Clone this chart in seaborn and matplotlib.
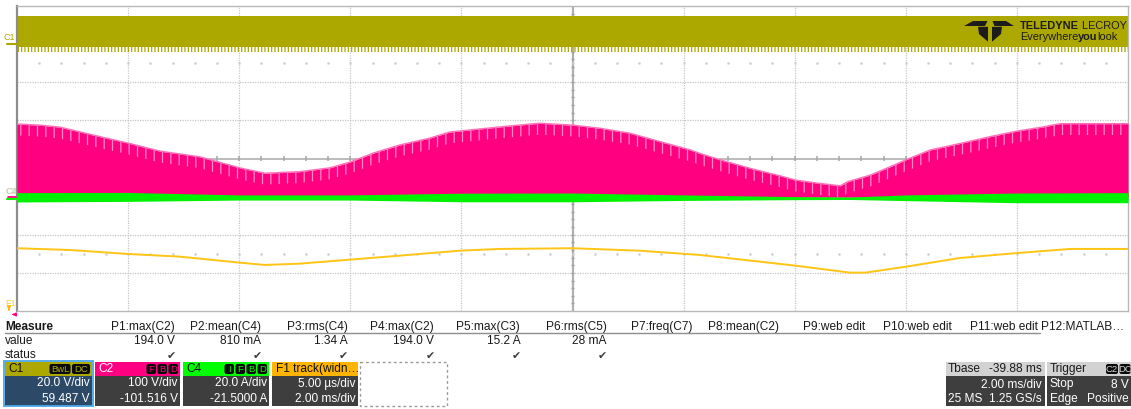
import numpy as np
import pandas as pd
import matplotlib
matplotlib.use("Agg")
import matplotlib.pyplot as plt
from matplotlib.patches import Rectangle, FancyBboxPatch, Polygon
import seaborn as sns

# ---------------- acquisition setup ----------------
TIME_DIV_MS = 2.0                       # 2.00 ms/div, 10 divisions
C1_SCALE, C1_OFFSET = 20.0, 59.487      # V/div, V
C2_SCALE, C2_OFFSET = 100.0, -101.516   # V/div, V
C4_SCALE, C4_OFFSET = 20.0, -21.5       # A/div, A
F1_SCALE, F1_OFFSET = 5.0, -22.5        # us/div, us

# ---------------- waveform data ----------------
# C1 gate drive: switching band (V)
c1_high_v = 15.3
c1_low_v = -0.8
c1_ring_v = -3.7

# C2 switch-node voltage: per-cycle peak envelope (V)
c2_time_ms = [0.00, 0.41, 0.77, 1.49, 2.00, 2.57, 3.29, 4.01, 4.46, 5.09,
              5.63, 5.99, 6.44, 6.89, 7.43, 7.79, 8.33, 8.87, 9.41, 10.01,
              10.49, 11.03, 11.57, 12.12, 12.29, 12.66, 13.19, 13.74, 14.01, 14.46,
              14.82, 14.96, 15.36, 15.72, 16.00, 16.44, 16.98, 17.52, 18.02, 18.42,
              18.78, 20.00]
c2_peak_v = [192, 189, 184, 159, 142, 121, 106, 77, 63, 67,
             77, 92, 117, 137, 155, 171, 179, 187, 194.0, 189,
             181, 168, 146, 124, 115, 98, 76, 56, 45, 36,
             30, 41, 58, 80, 98, 124, 141, 159, 174, 183,
             193, 193]
c2_floor_v = 0.0

# C4 current: ripple band (A)
c4_time_ms = [0, 2, 4, 6, 8, 10, 12, 14, 15, 16, 18, 20]
c4_high_a = [3.6, 3.7, 2.4, 2.4, 3.3, 3.4, 2.4, 1.5, 1.3, 2.4, 3.4, 3.6]
c4_low_a = [-1.3, -1.0, -0.3, -0.3, -1.2, -1.2, -0.5, -0.1, 0.0, -0.6, -1.7, -1.7]

# F1 tracked pulse width (us)
f1_time_ms = [0.00, 0.95, 2.00, 2.93, 4.01, 4.46, 5.09, 6.89, 7.97, 8.69,
              10.01, 11.21, 12.29, 14.01, 14.996, 15.27, 16.00, 16.98, 18.02, 18.96, 20.00]
f1_width_us = [10.73, 10.50, 9.98, 9.63, 8.84, 8.54, 8.71, 9.76, 10.41, 10.64,
               10.73, 10.41, 9.85, 8.45, 7.53, 7.53, 8.31, 9.46, 10.11, 10.64, 10.64]

# ---------------- measurement table ----------------
meas_names = ["P1:max(C2)", "P2:mean(C4)", "P3:rms(C4)", "P4:max(C2)", "P5:max(C3)",
              "P6:rms(C5)", "P7:freq(C7)", "P8:mean(C2)", "P9:web edit",
              "P10:web edit", "P11:web edit", "P12:MATLAB\u2026"]
c2_max_text = f"{max(c2_peak_v):.1f} V"
meas_values = [c2_max_text, "810 mA", "1.34 A", c2_max_text, "15.2 A", "28 mA",
               "", "", "", "", "", ""]
meas_ok = [True, True, True, True, True, True, False, False, False, False, False, False]

# ---------------- channel descriptors ----------------
desc_names = ["C1", "C2", "C4", "F1 track(widn\u2026"]
desc_colors = ["#ADA800", "#FF0080", "#00FF00", "#FFB400"]
desc_name_colors = ["#111111", "#FFFFFF", "#111111", "#111111"]
desc_badges = [["BwL", "DC"], ["F", "B", "D"], ["I", "F", "B", "D"], []]
desc_line1 = ["20.0 V/div", "100 V/div", "20.0 A/div", "5.00 \u00b5s/div"]
desc_line2 = ["59.487 V", "-101.516 V", "-21.5000 A", "2.00 ms/div"]

timebase = ["Tbase", "-39.88 ms", "2.00 ms/div", "25 MS", "1.25 GS/s"]
trigger = ["Trigger", "C2", "DC", "Stop", "8 V", "Edge", "Positive"]

# ---------------- style ----------------
sns.set_theme(style="white")
plt.rcParams["font.family"] = ["Liberation Sans", "DejaVu Sans"]
plt.rcParams["hatch.linewidth"] = 0.9

C1_COLOR, C2_COLOR, C4_COLOR, F1_COLOR = "#ADA800", "#FF0080", "#00F200", "#FFC414"
BODY = "#3E3E3E"
FS = 8.6

W, H = 1131, 409
fig = plt.figure(figsize=(W / 100, H / 100), dpi=100, facecolor="white")


def to_div(v, scale, offset):
    return (np.asarray(v, dtype=float) + offset) / scale


# ---------------- scope grid ----------------
X0, X1, Y0, Y1 = 17, 1128, 6, 311
ax = fig.add_axes([X0 / W, 1 - Y1 / H, (X1 - X0) / W, (Y1 - Y0) / H])
ax.set_xlim(0, 10 * TIME_DIV_MS)
ax.set_ylim(-4, 4)
ax.set_xticks([])
ax.set_yticks([])
ax.set_facecolor("white")
for s in ax.spines.values():
    s.set_color("#B8B8B8")
    s.set_linewidth(1.0)
ax.spines["left"].set_color("#8C8C8C")
ax.spines["left"].set_linewidth(1.6)

grid_kw = dict(color="#C6C6C6", lw=0.9, ls=(0, (1, 1)), zorder=0)
for i in range(1, 10):
    if i != 5:
        ax.axvline(i * TIME_DIV_MS, **grid_kw)
for j in range(-3, 4):
    if j != 0:
        ax.axhline(j, **grid_kw)
ax.axhline(0, color="#B0B0B0", lw=1.2, zorder=0.5)
ax.axvline(5 * TIME_DIV_MS, color="#B0B0B0", lw=1.6, zorder=0.5)
minor_t = np.arange(0.4, 20, 0.4)
ax.vlines(minor_t, -0.065, 0.065, color="#A8A8A8", lw=1.1, zorder=0.5)
minor_d = np.arange(-3.8, 4, 0.2)
ax.hlines(minor_d, 10 - 0.035, 10 + 0.035, color="#A0A0A0", lw=1.0, zorder=0.5)
for lvl in (2.5, -2.5):
    ax.plot(minor_t, np.full_like(minor_t, lvl), ls="none", marker="s", ms=0.8,
            color="#CFCFCF", zorder=0.5)

# ---------------- traces ----------------
span = [0, 10 * TIME_DIV_MS]
ax.fill_between(span, to_div(c1_low_v, C1_SCALE, C1_OFFSET),
                to_div(c1_high_v, C1_SCALE, C1_OFFSET), color=C1_COLOR, lw=0, zorder=2)
ax.fill_between(span, to_div(c1_ring_v, C1_SCALE, C1_OFFSET),
                to_div(c1_low_v, C1_SCALE, C1_OFFSET), facecolor="none",
                edgecolor=C1_COLOR, hatch="|||||", lw=0, zorder=2)

c2 = pd.DataFrame({"t": c2_time_ms, "d": to_div(c2_peak_v, C2_SCALE, C2_OFFSET)})
ax.fill_between(c2["t"], to_div(c2_floor_v, C2_SCALE, C2_OFFSET), c2["d"],
                color=C2_COLOR, lw=0, zorder=3)
# lighter streaks just under the peak envelope (sample-to-sample ringing)
ax.fill_between(c2["t"], c2["d"] - 0.3, c2["d"], facecolor="none",
                edgecolor="#FF8CC6", hatch="||", lw=0, zorder=3.1)
sns.lineplot(data=c2, x="t", y="d", color="#FF6FB8", lw=1.0, ax=ax, zorder=3.2)

ax.fill_between(c4_time_ms, to_div(c4_low_a, C4_SCALE, C4_OFFSET),
                to_div(c4_high_a, C4_SCALE, C4_OFFSET), color=C4_COLOR, lw=0, zorder=4)

f1 = pd.DataFrame({"t": f1_time_ms, "d": to_div(f1_width_us, F1_SCALE, F1_OFFSET)})
sns.lineplot(data=f1, x="t", y="d", color=F1_COLOR, lw=1.4, ax=ax, zorder=5)
ax.set_xlabel("")
ax.set_ylabel("")
ax.set_xlim(0, 10 * TIME_DIV_MS)
ax.set_ylim(-4, 4)

# ---------------- overlay in pixel units ----------------
ov = fig.add_axes([0, 0, 1, 1], zorder=10)
ov.set_xlim(0, W)
ov.set_ylim(H, 0)
ov.axis("off")
renderer = fig.canvas.get_renderer()


def txt(x, y, s, ha="left", color="#1A1A1A", size=FS, **kw):
    return ov.text(x, y, s, ha=ha, va="center", color=color, fontsize=size, **kw)


def txt_run(x, y, parts, color, size):
    # consecutive text pieces of mixed weight on one baseline
    for s, wt in parts:
        t = txt(x, y, s, color=color, size=size, weight=wt)
        bb = t.get_window_extent(renderer=renderer)
        x += bb.width * W / fig.bbox.width


def rect(x0, y0, x1, y1, fc, **kw):
    ov.add_patch(Rectangle((x0, y0), x1 - x0, y1 - y0, facecolor=fc,
                           edgecolor=kw.pop("ec", "none"), **kw))


def badge(x0, x1, y0, y1, s, color):
    ov.add_patch(FancyBboxPatch((x0, y0), x1 - x0, y1 - y0,
                                boxstyle="round,pad=0,rounding_size=2",
                                facecolor="#0A0A0A", edgecolor="none"))
    ov.text((x0 + x1) / 2, (y0 + y1) / 2 + 0.3, s, ha="center", va="center",
            color=color, fontsize=6.8)


# channel markers on the left edge
txt(4, 38, "C1", color=C1_COLOR, size=6.5)
ov.plot([7, 17], [44.3, 44.3], color=C1_COLOR, lw=1.5)
txt(6, 191, "C4", color="#8CF08C", size=6.5)
txt(6, 191, "C2", color="#FF9ACB", size=6.5, alpha=0.6)
ov.plot([8, 16], [197, 197], color=C2_COLOR, lw=1.3)
ov.plot([7, 17], [199.3, 199.3], color=C4_COLOR, lw=1.5)
txt(5, 303.5, "F1", color="#FFC83C", size=6.5)
ov.annotate("", xy=(9, 313), xytext=(9, 307),
            arrowprops=dict(arrowstyle="-|>", color="#FFB400", lw=1.0,
                            mutation_scale=5))
ov.annotate("", xy=(12, 314.5), xytext=(17, 314.5),
            arrowprops=dict(arrowstyle="-|>", color=C2_COLOR, lw=1.0,
                            mutation_scale=5))

# logo on the C1 band
logo = "#1C1C1C"
for pts in ([(964, 26), (973, 21), (987.5, 21), (985, 26)],
            [(992.5, 21), (1006, 21), (1014, 26), (994.5, 26)],
            [(978, 26.8), (988, 26.8), (988, 41.7), (979, 34)],
            [(992, 26.8), (1002, 26.8), (1001, 34), (992, 41.7)]):
    ov.add_patch(Polygon(pts, closed=True, facecolor=logo, edgecolor="none"))
txt_run(1020, 26, [("TELEDYNE", "bold"), (" LECROY", "normal")], logo, 7.9)
txt_run(1020, 37.5, [("Everywhere", "normal"), ("you", "bold"), ("look", "normal")],
        logo, 7.9)

# measurement table
col_right = [175 + 86.3 * i for i in range(12)]
txt(5, 327, "Measure", weight="bold")
txt(5, 341.5, "value")
txt(5, 355.5, "status")
ov.plot([5, 1040], [333.2, 333.2], color="#8E8E8E", lw=1.0)
for xr, name, val, ok in zip(col_right, meas_names, meas_values, meas_ok):
    txt(xr, 327, name, ha="right")
    if val:
        txt(xr, 341.5, val, ha="right")
    if ok:
        txt(xr + 0.5, 355.5, "\u2714", ha="right", color="#3A3A3A", size=7.8,
            family="DejaVu Sans")

# channel descriptor boxes
box_x = [(5, 92), (95, 180), (183, 269), (272, 358)]
HY0, HY1, BY1 = 362, 375.5, 405.5
for k, (xa, xb) in enumerate(box_x):
    rect(xa, HY0, xb, HY1, desc_colors[k])
    rect(xa, HY1, xb, BY1, "#2C4A68" if k == 0 else BODY)
    txt(xa + 3.5, 369, desc_names[k], color=desc_name_colors[k])
    xr = xb - 2
    widths = {"BwL": 21, "DC": 18}
    for b in reversed(desc_badges[k]):
        bw = widths.get(b, 9.5)
        badge(xr - bw, xr, HY0 + 2, HY1 - 1.5, b, desc_colors[k])
        xr -= bw + 1.5
    txt(xb - 2, 383.5, desc_line1[k], ha="right", color="white")
    txt(xb - 2, 398.5, desc_line2[k], ha="right", color="white")
rect(4.3, 361.3, 92.7, 406.2, "none", ec="#4AA6E8", lw=1.3)
rect(360, 362, 447, 406, "none", ec="#9A9A9A", lw=1.0, ls=(0, (2, 2)))

# timebase and trigger
rect(945.5, HY0, 1044.5, HY1 + 0.5, "#D2D2D2")
rect(945.5, HY1 + 0.5, 1044.5, BY1, BODY)
txt(948, 369, timebase[0])
txt(1042, 369, timebase[1], ha="right")
txt(1042, 384.5, timebase[2], ha="right", color="white")
txt(948, 399, timebase[3], color="white")
txt(1042, 399, timebase[4], ha="right", color="white")

rect(1047, HY0, 1131, HY1 + 0.5, "#D2D2D2")
rect(1047, HY1 + 0.5, 1131, BY1, BODY)
txt(1050, 369, trigger[0])
badge(1106, 1118, HY0 + 2, HY1 - 1.5, trigger[1], "#D8D8D8")
badge(1119.5, 1130.5, HY0 + 2, HY1 - 1.5, trigger[2], "#D8D8D8")
txt(1050, 384.5, trigger[3], color="white")
txt(1129, 384.5, trigger[4], ha="right", color="white")
txt(1050, 399, trigger[5], color="white")
txt(1129, 399, trigger[6], ha="right", color="white")

fig.savefig("out.png", dpi=100, facecolor="white")
